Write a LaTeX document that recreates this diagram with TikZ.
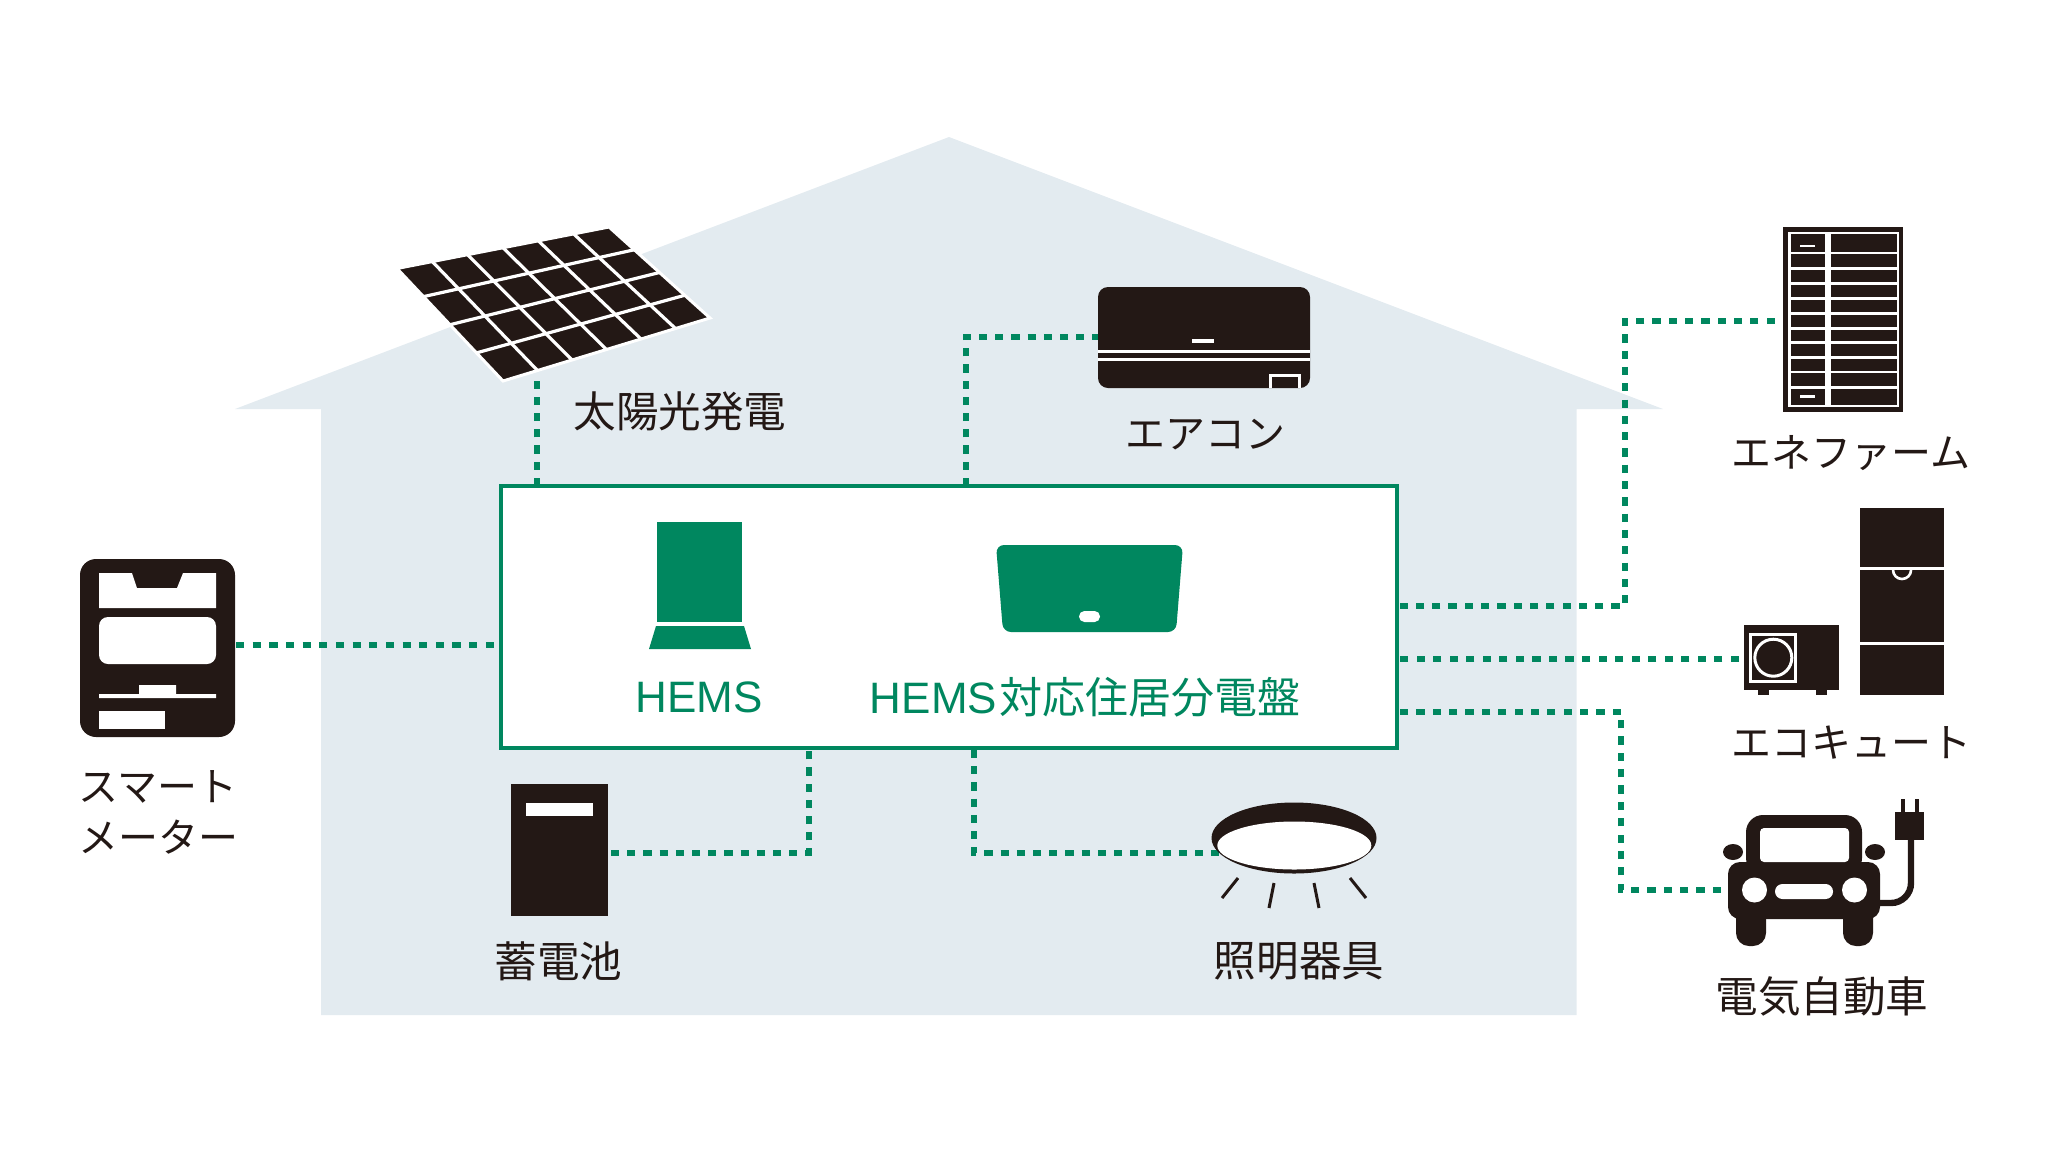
\documentclass[tikz,border=0pt]{standalone}
\usepackage{fontspec}
\newfontfamily\cjk{Noto Sans CJK JP}
\newfontfamily\lat{Liberation Sans}
\usetikzlibrary{calc}
\definecolor{ink}{HTML}{231815}
\definecolor{hemsgreen}{HTML}{00875F}
\definecolor{housefill}{HTML}{E3EBF0}
\tikzset{
  conn/.style={draw=hemsgreen,line width=3.3pt,dash pattern=on 4.1pt off 4pt},
  lbl/.style={inner sep=0pt,text=ink,font=\cjk\fontsize{21.3pt}{21.3pt}\selectfont,align=center},
  kana/.style={inner sep=0pt,text=ink,font=\cjk\fontsize{20pt}{20pt}\selectfont,align=center},
  glbl/.style={inner sep=0pt,text=hemsgreen,font=\cjk\fontsize{21.5pt}{21.5pt}\selectfont},
}
\begin{document}
\begin{tikzpicture}[x=0.5pt,y=-0.5pt]
\useasboundingbox (0,0) rectangle (2048,1152);
% house
\fill[housefill] (949,137) -- (1663,409) -- (1576.5,409) -- (1576.5,1015) -- (321,1015) -- (321,409) -- (235,409) -- cycle;
% central box
\node[draw=hemsgreen,fill=white,line width=2pt,inner sep=0pt,outer sep=1pt,minimum width=448pt,minimum height=131pt] (hems) at (949,617) {};
% anchors on the box and devices
\coordinate (pvEnd) at (537,380);
\coordinate (boxPv) at (537,486);
\coordinate (acEnd) at (1098,337);
\coordinate (acBend) at (966,337);
\coordinate (boxAc) at (966,486);
\coordinate (meterEnd) at (236,645);
\coordinate (boxMeter) at (494,645);
\coordinate (batEnd) at (611,853);
\coordinate (batBend) at (809,853);
\coordinate (boxBat) at (809,750);
\coordinate (lampEnd) at (1222,853);
\coordinate (lampBend) at (974,853);
\coordinate (boxLamp) at (974,750);
\coordinate (boxEne) at (1400,606);
\coordinate (eneBend1) at (1625,606);
\coordinate (eneBend2) at (1625,321);
\coordinate (eneEnd) at (1791,321);
\coordinate (boxEco) at (1400,659);
\coordinate (ecoEnd) at (1739,659);
\coordinate (boxCar) at (1400,712);
\coordinate (carBend1) at (1621,712);
\coordinate (carBend2) at (1621,890);
\coordinate (carEnd) at (1721,890);
% connectors
\draw[conn] (boxPv) -- (pvEnd);
\draw[conn] (boxAc) -- (acBend) -- (acEnd);
\draw[conn,dash pattern=on 4.1pt off 4.225pt] (meterEnd) -- (boxMeter);
\draw[conn] (batEnd) -- (batBend) -- (boxBat);
\draw[conn] (boxLamp) -- (lampBend) -- (lampEnd);
\draw[conn,dash pattern=on 4.1pt off 4.05pt] (eneEnd) -- (eneBend2) -- (eneBend1) -- (boxEne);
\draw[conn,dash pattern=on 4.1pt off 4.17pt] (ecoEnd) -- (boxEco);
\draw[conn,dash pattern=on 4.1pt off 4.08pt] (carEnd) -- (carBend2) -- (carBend1) -- (boxCar);
% solar panel
\coordinate (TL) at (397,268.5);
\coordinate (TR) at (609,227);
\coordinate (BR) at (710,318);
\coordinate (BL) at (503,381);
\fill[ink,draw=white,line width=1.5pt,line join=miter] (TL) -- (TR) -- (BR) -- (BL) -- cycle;
\foreach \u in {0.25,0.5,0.75}
  \draw[white,line width=1.6pt] ($(TL)!\u!(BL)$) -- ($(TR)!\u!(BR)$);
\foreach \u in {0.1667,0.3333,0.5,0.6667,0.8333}
  \draw[white,line width=1.6pt] ($(TL)!\u!(TR)$) -- ($(BL)!\u!(BR)$);
% smart meter
\fill[ink,rounded corners=8pt] (80,559) rectangle (235,737);
\fill[white] (99,573) -- (132,573) -- (137,588) -- (177,588) -- (183,573) -- (216,573) -- (216,608) -- (99,608) -- cycle;
\fill[white,rounded corners=4.5pt] (99,617) rectangle (216,664);
\fill[white] (99,698) -- (99,694) -- (139,694) -- (139,685) -- (176,685) -- (176,694) -- (216,694) -- (216,698) -- cycle;
\fill[white] (99,711) rectangle (165,729);
% air conditioner
\fill[ink,rounded corners=5pt] (1098,287) rectangle (1310,388);
\fill[white] (1192,339) rectangle (1214,342.5);
\fill[white] (1098,350) rectangle (1310,353);
\fill[white] (1098,358) rectangle (1310,361);
\draw[white,line width=1.6pt] (1270.5,388) -- (1270.5,375.5) -- (1299.5,375.5) -- (1299.5,388);
% ene-farm
\fill[ink] (1783,227) rectangle (1903,412);
\fill[white] (1788,232) rectangle (1899,407);
\foreach \t/\b in {234/251.5,254/267,269.5/281.5,284.5/296.5,299.5/311.5,314.5/326.5,329.5/341,343.5/356,358.5/371,373/386,388.5/404.5}{
  \fill[ink] (1791,\t) rectangle (1825,\b);
  \fill[ink] (1831,\t) rectangle (1897,\b);
}
\fill[white] (1800,244.5) rectangle (1815,247);
\fill[white] (1800,395) rectangle (1815,397.5);
% eco cute
\fill[ink] (1744,625) rectangle (1839,690);
\fill[ink] (1758,690) rectangle (1769,695);
\fill[ink] (1816,690) rectangle (1827,695);
\draw[white,line width=1.6pt] (1750.5,634.5) rectangle (1795.5,681.5);
\draw[white,line width=1.5pt] (1773.3,657.7) circle[radius=18.5];
\fill[ink] (1860,508) rectangle (1944,695);
\fill[white] (1860,567) rectangle (1944,570);
\fill[white] (1860,642) rectangle (1944,645);
\draw[white,line width=1.3pt] (1893,570) arc[start angle=180,end angle=0,radius=9];
% electric car
\fill[ink] (1895,812) rectangle (1924,840);
\fill[ink] (1901,799) rectangle (1905,812);
\fill[ink] (1915,799) rectangle (1919,812);
\draw[ink,line width=3.2pt,rounded corners=10pt] (1911,838) -- (1911,903) -- (1875,903);
\fill[ink,rounded corners=8.5pt] (1746,875) -- (1746,815) -- (1862,815) -- (1862,875) -- cycle;
\fill[ink] (1733,852) ellipse (10 and 8);
\fill[ink] (1875,852) ellipse (10 and 8);
\fill[ink,rounded corners=6.5pt] (1736,900) -- (1736,946) -- (1766,946) -- (1766,900) -- cycle;
\fill[ink,rounded corners=6.5pt] (1843,900) -- (1843,946) -- (1873,946) -- (1873,900) -- cycle;
\fill[ink,rounded corners=6pt] (1728,862) rectangle (1880,919);
\fill[white,rounded corners=2pt] (1760,862) -- (1760,828) -- (1849,828) -- (1849,862) -- cycle;
\fill[white] (1754.5,890) circle[radius=12.5];
\fill[white] (1854.5,890) circle[radius=12.5];
\fill[white,rounded corners=3.7pt] (1775,884) rectangle (1833,899);
% lamp
\fill[ink] (1294,838) ellipse (82.5 and 35.5);
\fill[white] (1294.3,845.5) ellipse (77 and 24);
\foreach \a/\b/\c/\d in {1238/878/1222/898,1274/883/1269/908,1314/883/1319/908,1350/878/1366/898}
  \draw[ink,line width=1.5pt] (\a,\b) -- (\c,\d);
% battery
\fill[ink] (511,784) rectangle (608,916);
\fill[white] (526,803) rectangle (593,816);
% HEMS icons
\fill[hemsgreen] (657,522) rectangle (742,622);
\fill[hemsgreen] (656,626) -- (744,626) -- (751,649) -- (649,649) -- cycle;
\fill[hemsgreen,rounded corners=4pt] (996,545) -- (1183,545) -- (1176,632) -- (1003,632) -- cycle;
\fill[white,rounded corners=2.7pt] (1079,611) rectangle (1100,622);
% labels
\node[glbl] (tHems) at (699,697) {\lat\fontsize{22pt}{22pt}\selectfont HEMS};
\node[glbl] (tPanel) at (1085,697) {{\lat\fontsize{22pt}{22pt}\selectfont HEMS}\hspace{1pt}対応住居分電盤};
\node[lbl] (tPv) at (680,411) {太陽光発電};
\node[kana] (tAc) at (1205,435) {エアコン};
\node[kana] (tEne) at (1851,453) {エネファーム};
\node[kana] (tEco) at (1851,743) {エコキュート};
\node[lbl] (tCar) at (1822,996) {電気自動車};
\node[kana] (tM1) at (158,787) {スマート};
\node[kana] (tM2) at (158,837) {メーター};
\node[lbl] (tLamp) at (1299,961) {照明器具};
\node[lbl] (tBat) at (558.5,961) {蓄電池};
\end{tikzpicture}
\end{document}
